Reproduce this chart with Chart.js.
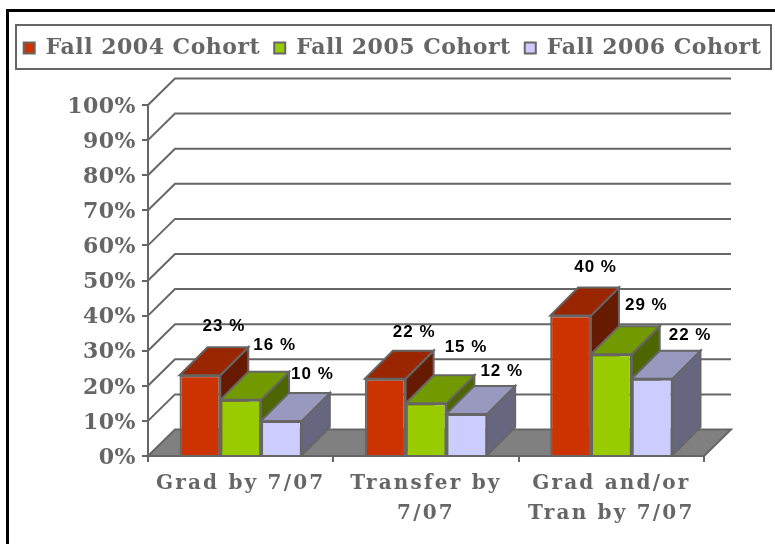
<!DOCTYPE html>
<html>
<head>
<meta charset="utf-8">
<script src="https://cdn.jsdelivr.net/npm/chart.js@4"></script>
<style>
  html, body { margin: 0; padding: 0; background: #fff; }
  canvas { display: block; }
</style>
</head>
<body>
<canvas id="cohortChart" width="775" height="544"></canvas>
<script>
var categories = [['Grad by 7/07'], ['Transfer by', '7/07'], ['Grad and/or', 'Tran by 7/07']];
var seriesNames = ['Fall 2004 Cohort', 'Fall 2005 Cohort', 'Fall 2006 Cohort'];
var fall2004 = [23, 22, 40];
var fall2005 = [16, 15, 29];
var fall2006 = [10, 12, 22];
var yTicks = [0, 10, 20, 30, 40, 50, 60, 70, 80, 90, 100];

var GREY = '#666666';
var SERIF = '"DejaVu Serif", serif';
var frontColors = ['#cc3300', '#99cc00', '#ccccff'];
var topColors = ['#992600', '#739900', '#9999bf'];
var sideColors = ['#661a00', '#4d6600', '#666680'];
// value label offset from the bar's top centre, by series then category
var labelOffsets = [
    [[24, -49], [29, -46], [25, -48]],
    [[34, -55], [40, -56], [35, -49]],
    [[31, -47], [35, -43], [38, -43]]
];
var depthX = 28, depthY = 28;
var wallX = 27, wallY = 26.5;

function poly(ctx, pts, fill) {
    ctx.beginPath();
    ctx.moveTo(pts[0][0], pts[0][1]);
    for (var i = 1; i < pts.length; i++) ctx.lineTo(pts[i][0], pts[i][1]);
    ctx.closePath();
    if (fill) { ctx.fillStyle = fill; ctx.fill(); }
    ctx.strokeStyle = GREY;
    ctx.lineWidth = 2;
    ctx.stroke();
}

// frame, legend box, back wall, floor and the 3d bar faces
var backdrop = {
    id: 'backdrop',
    beforeLayout: function(chart) {
        chart.ctx.letterSpacing = '0.5px';
    },
    afterLayout: function(chart) {
        chart.legend.top = 23;
        chart.legend.left += 5;
        chart.legend.right += 5;
        // x labels are spaced wider than the rest
        var xScale = chart.scales.x, ctx = chart.ctx;
        var drawLabels = xScale.drawLabels;
        xScale.drawLabels = function(area) {
            ctx.save();
            ctx.letterSpacing = '2.2px';
            drawLabels.call(xScale, area);
            ctx.restore();
        };
    },
    beforeDraw: function(chart) {
        var ctx = chart.ctx;
        ctx.save();
        ctx.strokeStyle = '#000';
        ctx.lineWidth = 3;
        ctx.strokeRect(7.5, 10.5, 800, 600);
        ctx.strokeStyle = GREY;
        ctx.lineWidth = 2;
        ctx.strokeRect(16, 25, 755, 44);
        ctx.restore();
    },
    beforeDatasetsDraw: function(chart) {
        var ctx = chart.ctx, yScale = chart.scales.y, area = chart.chartArea;
        ctx.save();
        ctx.strokeStyle = GREY;
        ctx.lineWidth = 2;
        yTicks.forEach(function(t) {
            if (t === 0) return;
            var y = yScale.getPixelForValue(t);
            ctx.beginPath();
            ctx.moveTo(area.left, y);
            ctx.lineTo(area.left + wallX, y - wallY);
            ctx.lineTo(area.right + wallX, y - wallY);
            ctx.stroke();
        });
        poly(ctx, [[area.left, area.bottom], [area.left + wallX, area.bottom - wallY],
            [area.right + wallX, area.bottom - wallY], [area.right, area.bottom]], '#808080');
        ctx.restore();
    },
    // series have to paint left to right, so the normal pass is skipped
    beforeDatasetDraw: function() {
        return false;
    },
    afterDatasetsDraw: function(chart) {
        var ctx = chart.ctx;
        ctx.save();
        chart.data.datasets.forEach(function(ds, idx) {
            var meta = chart.getDatasetMeta(idx);
            meta.data.forEach(function(bar) {
                var l = bar.x - bar.width / 2, r = bar.x + bar.width / 2;
                poly(ctx, [[r, bar.y], [r + depthX, bar.y - depthY], [r + depthX, bar.base - depthY], [r, bar.base]], sideColors[idx]);
                poly(ctx, [[l, bar.y], [l + depthX, bar.y - depthY], [r + depthX, bar.y - depthY], [r, bar.y]], topColors[idx]);
            });
            meta.controller.draw();
        });
        ctx.font = 'bold 17px "Liberation Sans", Arial, sans-serif';
        ctx.letterSpacing = '1px';
        ctx.fillStyle = '#000';
        ctx.textAlign = 'center';
        ctx.textBaseline = 'middle';
        chart.data.datasets.forEach(function(ds, idx) {
            chart.getDatasetMeta(idx).data.forEach(function(bar, i) {
                var off = labelOffsets[idx][i];
                ctx.fillText(ds.data[i] + ' %', bar.x + off[0], bar.y + off[1]);
            });
        });
        ctx.restore();
    }
};

var seriesData = [fall2004, fall2005, fall2006];

new Chart(document.getElementById('cohortChart'), {
    type: 'bar',
    plugins: [backdrop],
    data: {
        labels: categories,
        datasets: seriesNames.map(function(name, i) {
            return {
                label: name,
                data: seriesData[i],
                backgroundColor: frontColors[i],
                borderColor: GREY,
                borderWidth: 2
            };
        })
    },
    options: {
        responsive: false,
        animation: false,
        layout: { padding: { top: 59, right: 0, left: 0, bottom: 0 } },
        categoryPercentage: 0.66,
        barPercentage: 1,
        plugins: {
            tooltip: { enabled: false },
            legend: {
                position: 'top',
                labels: {
                    boxWidth: 11,
                    boxHeight: 11,
                    padding: 14,
                    color: GREY,
                    font: { family: SERIF, size: 22, weight: 'bold' }
                }
            }
        },
        scales: {
            x: {
                afterFit: function(scale) { scale.height = 88; },
                grid: { drawOnChartArea: false, color: GREY, lineWidth: 2, tickLength: 6, tickColor: GREY },
                border: { color: GREY, width: 2 },
                ticks: {
                    color: GREY,
                    maxRotation: 0,
                    autoSkip: false,
                    padding: 7,
                    font: { family: SERIF, size: 20, weight: 'bold', lineHeight: 1.5 }
                }
            },
            y: {
                min: 0,
                max: 100,
                afterBuildTicks: function(scale) {
                    scale.ticks = yTicks.map(function(v) { return { value: v }; });
                },
                afterFit: function(scale) { scale.width = 148; },
                grid: { drawOnChartArea: false, color: GREY, lineWidth: 2, tickLength: 6, tickColor: GREY },
                border: { color: GREY, width: 2 },
                ticks: {
                    color: GREY,
                    padding: 6,
                    labelOffset: 2,
                    font: { family: SERIF, size: 22, weight: 'bold' },
                    callback: function(v) { return v + '%'; }
                }
            },
            // empty axis, keeps the space right of the plot so the legend can still run full width
            rightGap: {
                type: 'linear',
                position: 'right',
                afterFit: function(scale) { scale.width = 71; },
                grid: { display: false },
                border: { display: false },
                ticks: { display: false }
            }
        }
    }
});
</script>
</body>
</html>
